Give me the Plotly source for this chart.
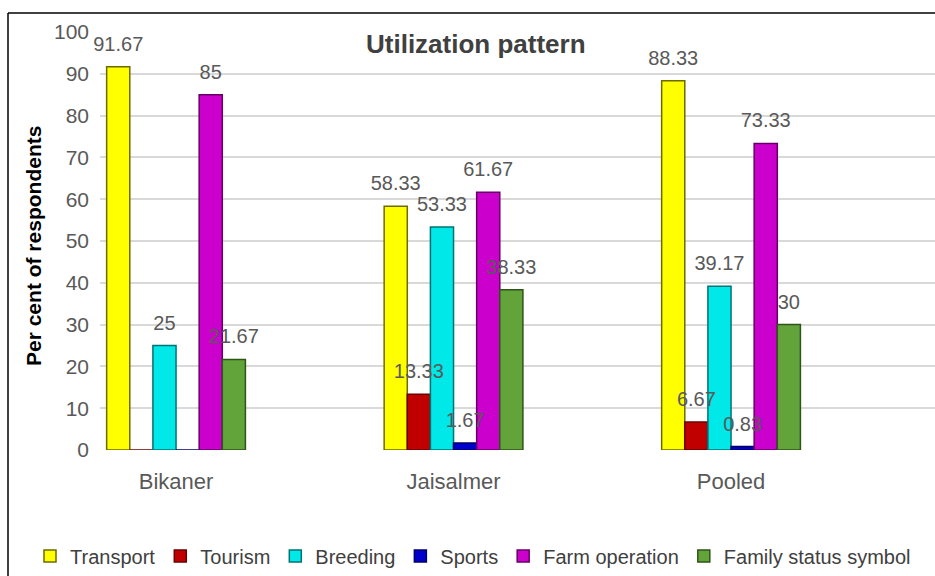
import plotly.graph_objects as go

categories = ["Bikaner", "Jaisalmer", "Pooled"]
series_names = ["Transport", "Tourism", "Breeding", "Sports", "Farm operation", "Family status symbol"]
transport = [91.67, 58.33, 88.33]
tourism = [0, 13.33, 6.67]
breeding = [25, 53.33, 39.17]
sports = [0, 1.67, 0.83]
farm_operation = [85, 61.67, 73.33]
family_status = [21.67, 38.33, 30]
y_ticks = [0, 10, 20, 30, 40, 50, 60, 70, 80, 90, 100]

values = [transport, tourism, breeding, sports, farm_operation, family_status]
fills = ["#FFFF00", "#C00000", "#00E8E8", "#0000CC", "#CC00CC", "#62A33A"]
edges = ["#6B6B00", "#6B0000", "#007373", "#000066", "#660066", "#2E5418"]

FONT = "Liberation Sans, Arial, sans-serif"

fig = go.Figure()
# bars
for i, (name, vals, fc, ec) in enumerate(zip(series_names, values, fills, edges)):
    fig.add_trace(go.Bar(
        name=name, x=categories, y=vals, offsetgroup=str(i),
        marker=dict(color=fc, line=dict(color=ec, width=1.5)),
        hoverinfo="x+y+name",
    ))
# data labels drawn on top of all bars (grouped scatter text)
for i, (name, vals) in enumerate(zip(series_names, values)):
    labels = [("%g" % v) if v != 0 else "" for v in vals]
    fig.add_trace(go.Scatter(
        name=name, x=categories, y=vals, offsetgroup=str(i), text=labels,
        mode="markers+text", textposition="top center", cliponaxis=False,
        textfont=dict(family=FONT, size=20, color="#595959"),
        marker=dict(size=16, color="rgba(0,0,0,0)"),
        showlegend=False, hoverinfo="skip",
    ))

# plot area: x 100..935 px, y 32..450 px
W, H = 935, 576
L, R, T, B = 100, 0, 32, 126
pw, ph = W - L - R, H - T - B

def px(x):
    return (x - L) / pw

def py(y):
    return (H - B - y) / ph

fig.update_layout(
    width=W, height=H,
    margin=dict(l=L, r=R, t=T, b=B),
    paper_bgcolor="white", plot_bgcolor="white",
    barmode="group", bargap=0.5, bargroupgap=0,
    scattermode="group", scattergap=0.5,
    font=dict(family=FONT, color="#595959"),
    showlegend=True,
    legend=dict(orientation="h", x=px(30), xanchor="left", y=py(556), yanchor="middle",
                font=dict(family=FONT, size=20, color="#404040"),
                itemwidth=30, tracegroupgap=0, bgcolor="rgba(0,0,0,0)"),
    xaxis=dict(range=[-0.274, 2.735], showgrid=False, showline=False, zeroline=False,
               tickfont=dict(family=FONT, size=22, color="#595959"), ticks="",
               ticklabelstandoff=16),
    yaxis=dict(range=[0, 100], tickvals=y_ticks, showgrid=True, gridcolor="#D9D9D9",
               gridwidth=1.5, zeroline=False, showline=False,
               tickfont=dict(family=FONT, size=21, color="#595959"), ticks="",
               ticklabelstandoff=10),
    annotations=[
        dict(text="<b>Utilization pattern</b>", x=px(476), y=py(44), xref="paper", yref="paper",
             showarrow=False, font=dict(family=FONT, size=26, color="#404040"),
             xanchor="center", yanchor="middle"),
        dict(text="<b>Per cent of respondents</b>", x=px(33), y=py(246), xref="paper", yref="paper",
             showarrow=False, textangle=-90, font=dict(family=FONT, size=21, color="#000000"),
             xanchor="center", yanchor="middle"),
    ],
    shapes=[
        dict(type="line", xref="paper", yref="paper", x0=px(8), x1=px(935), y0=py(13), y1=py(13),
             line=dict(color="#000000", width=1.5)),
        dict(type="line", xref="paper", yref="paper", x0=px(8), x1=px(8), y0=py(13), y1=py(576),
             line=dict(color="#000000", width=1.5)),
    ],
)

fig.write_html("out.html")
